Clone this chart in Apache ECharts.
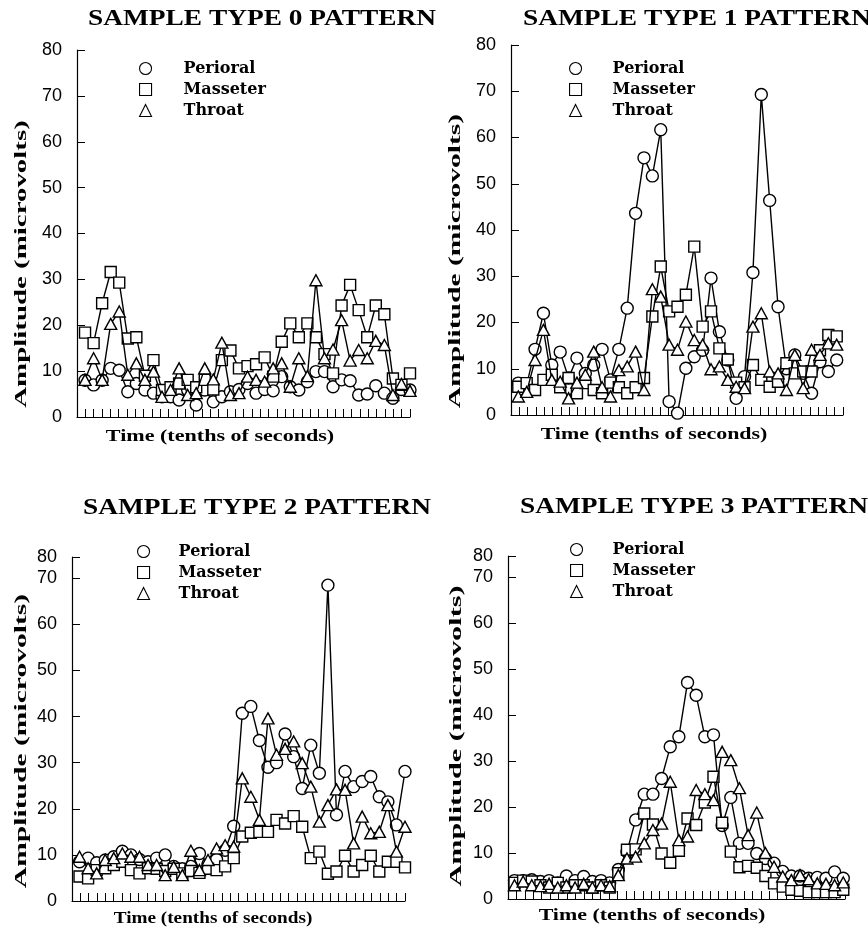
<!DOCTYPE html>
<html><head><meta charset="utf-8">
<script src="https://cdn.jsdelivr.net/npm/echarts@6/dist/echarts.min.js"></script>
<style>html,body{margin:0;padding:0;background:#fff}#c{width:868px;height:931px}</style>
</head><body><div id="c"></div>
<script>
// ---------- data ----------
const panelTitles = ['SAMPLE TYPE 0 PATTERN', 'SAMPLE TYPE 1 PATTERN', 'SAMPLE TYPE 2 PATTERN', 'SAMPLE TYPE 3 PATTERN'];
const seriesNames = ['Perioral', 'Masseter', 'Throat'];
const xAxisName = 'Time (tenths of seconds)';
const yAxisName = 'Amplitude (microvolts)';
const xTickSlots = 41;

const type0Perioral = [8, 7, 8, 10.6, 10.2, 5.5, 7.3, 5.9, 5.2, 4.4, 4.4, 3.7, 5.9, 2.6, 5.9, 3.3, 4.4, 5.5, 6, 7.3, 5.2, 6, 5.7, 8.8, 6.6, 5.9, 7.7, 9.9, 9.9, 6.6, 8.1, 7.9, 4.8, 5, 6.8, 5.2, 4.1, 6, 5.9];
const type0Masseter = [18.4, 16.1, 24.8, 31.6, 29.3, 17.1, 17.4, 9, 12.4, 5.9, 6.5, 7.3, 8.1, 6.5, 8.1, 6.0, 12.4, 14.5, 10.6, 11.1, 11.5, 13, 8.8, 16.4, 20.4, 17.4, 20.4, 17.4, 13.7, 9.5, 24.3, 28.8, 23.3, 17.4, 24.3, 22.4, 8.4, 7, 9.5];
const type0Throat = [8.1, 12.8, 8.1, 20.3, 23, 9.2, 11.7, 8.1, 9.9, 4.4, 5.9, 10.6, 4.8, 5.2, 10.6, 8.2, 16.2, 4.8, 5.2, 8.8, 8.1, 7.7, 10.6, 11.7, 6.6, 12.8, 8.9, 29.8, 12.8, 14.7, 21.1, 12.3, 14.6, 12.8, 16.6, 15.7, 4.8, 7.2, 5.7];

const type1Perioral = [6.9, 6.5, 14.2, 22, 10.8, 13.6, 8, 12.3, 9, 10.8, 14.2, 7.6, 14.2, 23.1, 43.6, 55.6, 51.7, 61.7, 2.9, 0.4, 10.1, 12.6, 14, 29.6, 18, 11.9, 3.6, 8.3, 30.8, 69.3, 46.4, 23.4, 10, 13, 9, 4.7, 11.5, 9.4, 11.9];
const type1Masseter = [6.1, 6.9, 5.4, 7.6, 8.7, 6, 8, 4.7, 6.9, 5.4, 4.7, 7, 6, 4.7, 6, 8, 21.3, 32.1, 22.4, 23.4, 26, 36.4, 19.1, 22.4, 14.4, 12, 7, 6, 10.8, 7.6, 6.1, 7.2, 11.2, 9, 9.4, 9.4, 14, 17.3, 17];
const type1Throat = [4, 5, 11.9, 18.4, 7.6, 7.2, 3.6, 7, 8.7, 13.7, 6, 4, 9.7, 10.5, 13.7, 5.4, 27.2, 25.6, 15.2, 14.1, 20.2, 16.2, 15.2, 9.9, 10.5, 7.6, 6.1, 5.8, 19.1, 22, 9.4, 9, 5.4, 13, 5.8, 14.1, 13, 15.5, 15.2];

const type2Perioral = [8.5, 9.3, 8.3, 8.9, 9.6, 10.8, 10, 9, 8.5, 9.3, 10, 7.5, 7, 7.5, 10.3, 8, 9, 11, 16.2, 40.7, 42.2, 34.8, 29, 30, 36.2, 31.3, 24.4, 33.8, 27.7, 68.5, 18.7, 28.1, 24.8, 25.9, 27, 22.6, 21.5, 16.5, 28.1];
const type2Masseter = [5.3, 4.9, 6.7, 7.1, 7.8, 8.5, 6.7, 6, 7.1, 7, 6.5, 7, 6, 6.5, 6.1, 7, 6.7, 7.5, 9.3, 14, 14.8, 15, 15, 17.6, 16.8, 18.4, 16.1, 9.3, 10.7, 5.9, 6.4, 9.8, 6.4, 7.8, 9.8, 6.4, 8.5, 8.5, 7.3];
const type2Throat = [9.6, 7.1, 6, 8.9, 9.3, 10.3, 9.6, 9.6, 7.8, 7.8, 5.6, 7.4, 5.6, 10.9, 6.7, 8.9, 11.4, 12.1, 11.8, 26.6, 22.6, 17.6, 39.6, 31.7, 33, 34.6, 29.9, 24.8, 17.2, 20.8, 24.2, 24.1, 12.5, 18.3, 14.7, 15, 20.8, 10.7, 16.1];

const type3Perioral = [4, 4, 4.2, 3.8, 4, 3.5, 5, 4, 4.9, 3.8, 4, 3.5, 6.4, 10.3, 17.2, 22.8, 22.8, 26.2, 33.1, 35.3, 47.1, 44.3, 35.3, 35.7, 16, 22.1, 12.1, 12.1, 9.9, 8.8, 7.8, 6, 5, 5, 4.5, 4.7, 4.5, 5.9, 4.5];
const type3Masseter = [3.5, 4, 3.8, 3, 2.5, 3.5, 2.5, 3, 3, 2.5, 3, 2.5, 5.6, 10.7, 10.8, 18.6, 16.2, 9.9, 7.9, 10.5, 17.5, 16.1, 21, 26.6, 16.6, 10.3, 6.9, 7.2, 6.8, 5, 3.4, 2.7, 2, 1.8, 1.5, 1.5, 1.5, 1.5, 2];
const type3Throat = [3, 3.8, 3, 2.8, 3.3, 2.5, 3, 2.5, 3.3, 2.5, 3, 2.8, 5.2, 8.8, 9.2, 12.1, 15, 16.4, 25.5, 12.8, 13.6, 23.7, 22.8, 21.5, 32, 30.2, 24.1, 13.9, 18.8, 10, 7, 4.9, 4.1, 5.2, 4.3, 3.4, 3.3, 3, 3.6];

const panelData = [
  [type0Perioral, type0Masseter, type0Throat],
  [type1Perioral, type1Masseter, type1Throat],
  [type2Perioral, type2Masseter, type2Throat],
  [type3Perioral, type3Masseter, type3Throat]
];

// ---------- layout / style ----------
const layout = [
  {grid: {left: 77, top: 50, width: 333, height: 367}, xMin: -0.94, xMax: 38, yMax: 80,
   legend: {left: 134, top: 54, pad: 27}, title: [262, 19], xName: [220, 437, 1.38], yName: [22, 264, 1.7]},
  {grid: {left: 511, top: 45, width: 332, height: 370}, xMin: -0.87, xMax: 38.75, yMax: 80,
   legend: {left: 564, top: 54, pad: 26}, title: [697, 19], xName: [654, 435, 1.37], yName: [456, 261, 1.74]},
  {grid: {left: 72, top: 557, width: 333, height: 344}, xMin: -0.88, xMax: 38, yMax: 74.6,
   legend: {left: 132, top: 537, pad: 24}, title: [257, 508], xName: [213, 919, 1.2], yName: [22, 741, 1.74]},
  {grid: {left: 508, top: 556, width: 337, height: 343}, xMin: -0.75, xMax: 38.2, yMax: 74.6,
   legend: {left: 565, top: 535, pad: 25}, title: [694, 507], xName: [652, 916, 1.37], yName: [457, 736, 1.78]}
];
const symbols = ['circle', 'rect', 'triangle'];
const symbolSizes = [12, 11, [12, 11]];

const serifFont = '"Liberation Serif", "Times New Roman", serif';
const grids = [], xAxes = [], yAxes = [], series = [], legends = [], graphics = [];
layout.forEach((L, p) => {
  grids.push(Object.assign({containLabel: false}, L.grid));
  xAxes.push({type: 'value', gridIndex: p, position: 'bottom', min: L.xMin, max: L.xMax, show: false});
  xAxes.push({
    type: 'category', gridIndex: p, position: 'bottom', boundaryGap: false, data: new Array(xTickSlots).fill(''),
    axisLine: {show: true, onZero: false, lineStyle: {color: '#000', width: 1.2}},
    axisTick: {show: true, inside: true, length: 8, interval: 0, lineStyle: {color: '#000', width: 1}},
    axisLabel: {show: false}, splitLine: {show: false}
  });
  yAxes.push({
    type: 'value', gridIndex: p, position: 'left', min: 0, max: L.yMax, interval: 10,
    axisLine: {show: true, onZero: false, lineStyle: {color: '#000', width: 1.2}},
    axisTick: {show: true, inside: true, length: 8, lineStyle: {color: '#000', width: 1}},
    axisLabel: {color: '#000', fontFamily: 'Liberation Sans, Arial, sans-serif', fontSize: 18, margin: 15,
      showMinLabel: true, showMaxLabel: true,
      formatter: v => (v > 71 ? '80' : String(v))},
    splitLine: {show: false}
  });
  panelData[p].forEach((vals, s) => {
    series.push({
      name: seriesNames[s], type: 'line', xAxisIndex: 2 * p, yAxisIndex: p,
      data: vals.map((v, i) => [i, v]),
      symbol: symbols[s], symbolSize: symbolSizes[s], showAllSymbol: true,
      itemStyle: {color: '#fff', borderColor: '#000', borderWidth: 1.4},
      lineStyle: {color: '#000', width: 1.4},
      emphasis: {disabled: true}, z: 2 + s
    });
  });
  legends.push({
    orient: 'vertical', left: L.legend.left, top: L.legend.top, itemWidth: 12, itemHeight: 12, itemGap: 2,
    selectedMode: false,
    data: seriesNames.map((n, s) => ({name: n, icon: symbols[s]})),
    itemStyle: {color: '#fff', borderColor: '#000', borderWidth: 1.1},
    textStyle: {fontFamily: 'DejaVu Serif, serif', fontWeight: 'bold', fontSize: 16,
      color: '#000', lineHeight: 19, padding: [0, 0, 0, L.legend.pad]}
  });
  graphics.push({type: 'text', x: L.title[0], y: L.title[1], scaleX: 1.19,
    style: {text: panelTitles[p], textAlign: 'center', textVerticalAlign: 'middle',
      font: 'bold 23px ' + serifFont, fill: '#000'}});
  graphics.push({type: 'text', x: L.xName[0], y: L.xName[1], scaleX: L.xName[2],
    style: {text: xAxisName, textAlign: 'center', textVerticalAlign: 'middle',
      font: 'bold 16px ' + serifFont, fill: '#000'}});
  graphics.push({type: 'text', x: L.yName[0], y: L.yName[1], rotation: Math.PI / 2, scaleX: L.yName[2],
    style: {text: yAxisName, textAlign: 'center', textVerticalAlign: 'middle',
      font: 'bold 17px ' + serifFont, fill: '#000'}});
});

const chart = echarts.init(document.getElementById('c'), null, {renderer: 'canvas'});
chart.setOption({
  animation: false,
  backgroundColor: '#fff',
  grid: grids, xAxis: xAxes, yAxis: yAxes, series: series, legend: legends,
  graphic: {elements: graphics}
});
</script>
</body></html>
